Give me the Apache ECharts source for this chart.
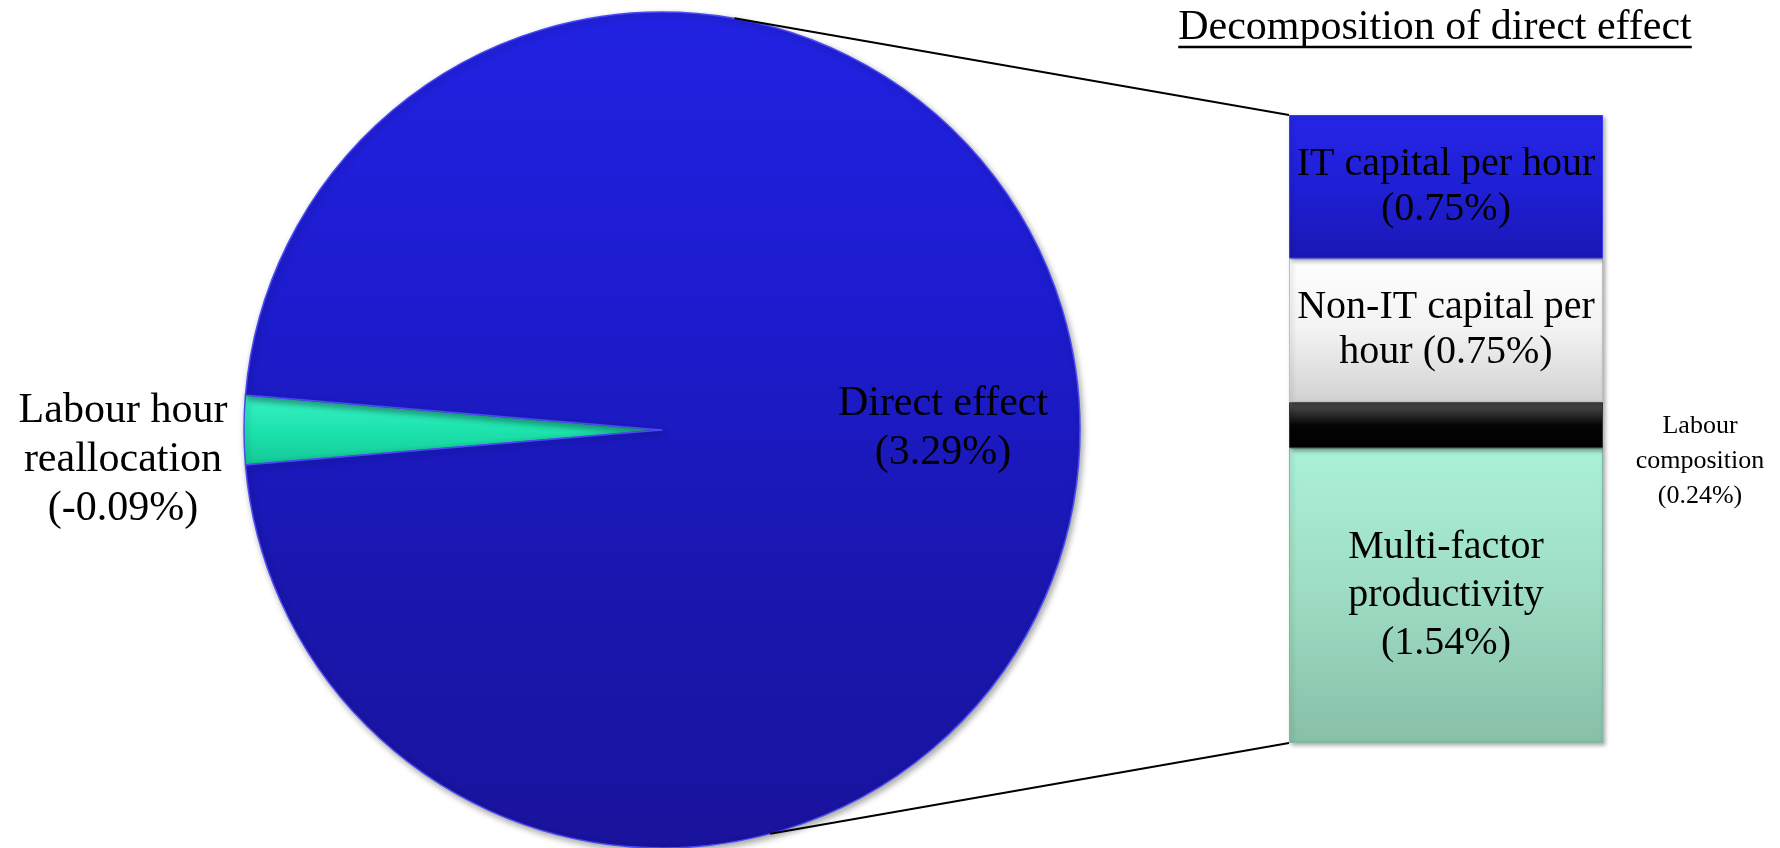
<!DOCTYPE html>
<html>
<head>
<meta charset="utf-8">
<style>
  html, body { margin: 0; padding: 0; background: #ffffff; }
  #chart { width: 1780px; height: 848px; }
</style>
<script src="https://cdn.jsdelivr.net/npm/echarts@6/dist/echarts.min.js"></script>
</head>
<body>
<div id="chart"></div>
<script>
// Contribution to labour productivity growth, split into the pie (total effect)
// and the stacked bar (decomposition of the direct effect).
const pieNames = ['Labour hour reallocation', 'Direct effect'];
const pieLabelText = ['Labour hour\nreallocation\n', 'Direct effect\n'];
const pieValues = [-0.09, 3.29];

// Stacked from the bottom up
const barNames = ['Multi-factor productivity', 'Labour composition', 'Non-IT capital per hour', 'IT capital per hour'];
const barLabelText = ['Multi-factor\nproductivity\n', 'Labour\ncomposition\n', 'Non-IT capital per\nhour ', 'IT capital per hour\n'];
const barValues = [1.54, 0.24, 0.75, 0.75];

const titleText = 'Decomposition of direct effect';

const FONT = "'Liberation Serif', 'Times New Roman', serif";
const pct = v => '(' + v.toFixed(2) + '%)';

// Layout
const pieCenter = [662, 430];
const pieRadius = 418;
const grid = { left: 1289, top: 115, width: 314, height: 628 };

const lg = (stops) => new echarts.graphic.LinearGradient(0, 0, 0, 1,
  stops.map((c, i) => ({ offset: i / (stops.length - 1), color: c })));

const pieColors = [
  lg(['#3af2c6', '#1de3ad', '#14c996']),
  lg(['#2222e2', '#1d1cd0', '#1a17b0', '#19139c'])
];
const barColors = [
  lg(['#abf2d8', '#9ddcc2', '#88bfa8']),
  lg(['#555555', '#050505', '#000000']),
  lg(['#ffffff', '#f2f2f2', '#d2d2d2']),
  lg(['#2626e8', '#1f1fd6', '#1a18b4'])
];
const barBorders = ['#7fb8a0', '#333333', '#c0c0c0', '#3a3af0'];

const pieTotal = pieValues.reduce((a, v) => a + Math.abs(v), 0);
// Centre the small slice on the 9 o'clock direction
const startAngle = 180 + Math.abs(pieValues[0]) / pieTotal * 180;

const barTotal = barValues.reduce((a, v) => a + v, 0);

const series = [{
  type: 'pie',
  center: pieCenter,
  radius: pieRadius,
  startAngle: startAngle,
  clockwise: true,
  silent: true,
  label: { show: false },
  labelLine: { show: false },
  itemStyle: {
    borderColor: '#4a4af4',
    borderWidth: 1.5,
    shadowBlur: 6,
    shadowOffsetX: 2,
    shadowOffsetY: 3,
    shadowColor: 'rgba(0,0,0,0.35)'
  },
  data: pieNames.map((n, i) => ({
    name: n,
    value: Math.abs(pieValues[i]),
    itemStyle: { color: pieColors[i] }
  }))
}];

barNames.forEach((n, i) => {
  const outside = n === 'Labour composition';
  series.push({
    type: 'bar',
    name: n,
    stack: 'direct',
    barWidth: '100%',
    silent: true,
    itemStyle: {
      color: barColors[i],
      borderColor: barBorders[i],
      borderWidth: 1,
      shadowBlur: 4,
      shadowOffsetX: 2,
      shadowOffsetY: 2,
      shadowColor: 'rgba(0,0,0,0.3)'
    },
    label: outside ? {
      show: true,
      position: 'right',
      distance: 97,
      align: 'center',
      verticalAlign: 'middle',
      offset: [0, 36],
      fontFamily: FONT,
      fontSize: 26,
      lineHeight: 35,
      color: '#000',
      formatter: () => barLabelText[i] + pct(barValues[i])
    } : {
      show: true,
      position: 'inside',
      fontFamily: FONT,
      fontSize: 40,
      lineHeight: n === 'Multi-factor productivity' ? 48 : 45,
      color: '#000',
      formatter: () => barLabelText[i] + pct(barValues[i])
    },
    data: [barValues[i]]
  });
});

// Connector lines from the pie edge to the bar corners
const angTop = 80 * Math.PI / 180, angBot = -75 * Math.PI / 180;
const pTop = [pieCenter[0] + pieRadius * Math.cos(angTop), pieCenter[1] - pieRadius * Math.sin(angTop)];
const pBot = [pieCenter[0] + pieRadius * Math.cos(angBot), pieCenter[1] - pieRadius * Math.sin(angBot)];

// Measure the title so the underline spans it
const ctx = document.createElement('canvas').getContext('2d');
ctx.font = '42px ' + FONT;
const titleW = ctx.measureText(titleText).width;
const titleX = 1435;

const chart = echarts.init(document.getElementById('chart'), null, { renderer: 'canvas' });
chart.setOption({
  animation: false,
  backgroundColor: '#ffffff',
  grid: grid,
  xAxis: { type: 'category', data: ['direct'], show: false },
  yAxis: { type: 'value', min: 0, max: barTotal, show: false },
  series: series,
  graphic: [
    { type: 'line', z: 100, shape: { x1: pTop[0], y1: pTop[1], x2: grid.left, y2: grid.top },
      style: { stroke: '#000', lineWidth: 2 } },
    { type: 'line', z: 100, shape: { x1: pBot[0], y1: pBot[1], x2: grid.left, y2: grid.top + grid.height },
      style: { stroke: '#000', lineWidth: 2 } },
    { type: 'text', z: 100, x: 943, y: 428,
      style: { text: pieLabelText[1] + pct(pieValues[1]), font: '42px ' + FONT, lineHeight: 49,
        align: 'center', verticalAlign: 'middle', fill: '#000' } },
    { type: 'text', z: 100, x: 123, y: 460,
      style: { text: pieLabelText[0] + pct(pieValues[0]), font: '42px ' + FONT, lineHeight: 49,
        align: 'center', verticalAlign: 'middle', fill: '#000' } },
    { type: 'text', z: 100, x: titleX, y: 28,
      style: { text: titleText, font: '42px ' + FONT, align: 'center', verticalAlign: 'middle', fill: '#000' } },
    { type: 'line', z: 100, shape: { x1: titleX - titleW / 2, y1: 47, x2: titleX + titleW / 2, y2: 47 },
      style: { stroke: '#000', lineWidth: 2.5 } }
  ]
});
</script>
</body>
</html>
